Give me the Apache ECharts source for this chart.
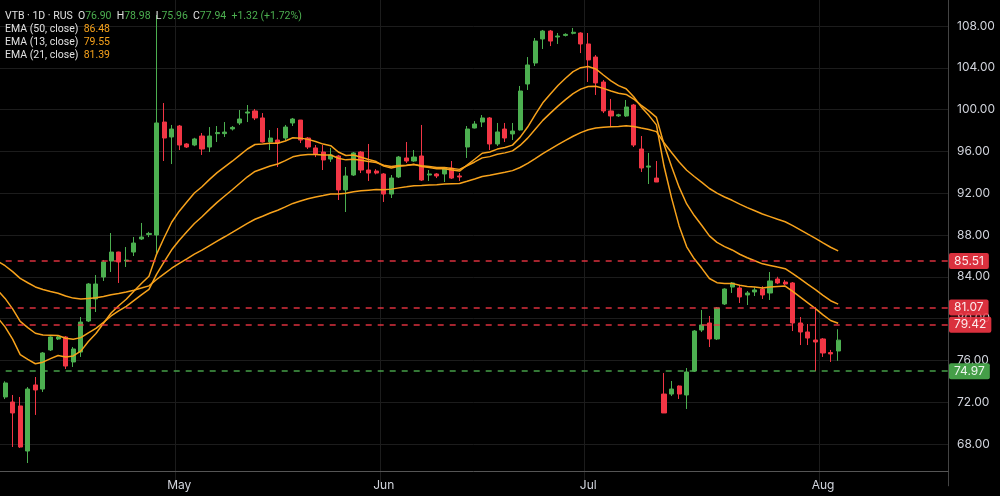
<!DOCTYPE html>
<html>
<head>
<meta charset="utf-8" />
<title>VTB 1D</title>
<script src="https://cdn.jsdelivr.net/npm/echarts@6/dist/echarts.min.js"></script>
<style>
  html, body { margin: 0; padding: 0; background: #000; }
  #main { width: 1000px; height: 496px; }
</style>
</head>
<body>
<div id="main"></div>
<script>
// trading days on the chart (weekend sessions included), 2025
var aprilDays = [7, 8, 9, 10, 11, 12, 13, 14, 15, 16, 17, 18, 19, 20, 21, 22, 23, 24, 25, 26, 27, 28, 29, 30];
var mayDays = [3, 4, 5, 6, 7, 10, 11, 12, 13, 14, 15, 16, 17, 18, 19, 20, 21, 22, 23, 24, 25, 26, 27, 28, 29, 30, 31];
var juneDays = [1, 2, 3, 4, 5, 6, 7, 8, 9, 10, 11, 15, 16, 17, 18, 19, 20, 21, 22, 23, 24, 25, 26, 27, 28, 29, 30];
var julyDays = [1, 2, 3, 4, 5, 6, 7, 8, 9, 10, 11, 12, 13, 14, 15, 16, 17, 18, 19, 20, 21, 22, 23, 24, 25, 26, 27, 28, 29, 30, 31];
var augustDays = [1, 2, 3, 4, 5, 6, 7, 8, 9, 10, 11, 12, 13, 14, 15, 16, 17];
var monthNames = ['Jan', 'Feb', 'Mar', 'Apr', 'May', 'Jun', 'Jul', 'Aug', 'Sep', 'Oct', 'Nov', 'Dec'];

var opens = [72.59, 72.50, 72.02, 71.64, 67.33, 73.65, 73.26, 77.00, 78.05, 78.24,
  75.85, 76.80, 79.77, 81.88, 83.98, 85.51, 86.37, 85.51, 86.37, 87.62,
  88.05, 88.00, 98.81, 97.38, 98.43, 96.71, 96.61, 97.47, 96.42, 97.70,
  97.70, 98.15, 98.72, 99.67, 99.87, 99.20, 96.90, 97.09, 97.28, 98.72,
  99.00, 97.28, 96.33, 95.94, 95.27, 95.56, 92.31, 93.74, 95.94, 94.22,
  94.12, 93.84, 91.92, 93.55, 95.37, 95.08, 95.56, 93.74, 93.84, 93.84,
  94.41, 93.65, 96.42, 98.24, 98.81, 99.20, 96.71, 98.14, 97.67, 98.05,
  102.45, 104.46, 106.76, 107.52, 106.95, 107.10, 107.30, 107.33, 106.28, 105.03,
  102.64, 99.87, 99.40, 99.39, 100.44, 96.23, 94.50, 93.45, 72.78, 72.78,
  73.55, 72.69, 74.98, 78.91, 79.58, 78.05, 81.40, 83.02, 82.93, 82.26,
  82.55, 82.83, 82.45, 83.79, 83.50, 83.41, 79.58, 78.72, 77.95, 78.05,
  76.75, 76.90];
var highs = [72.88, 74.00, 72.69, 72.50, 73.45, 74.41, 76.80, 78.30, 78.33, 78.33,
  77.28, 80.15, 83.40, 84.17, 85.61, 88.19, 86.40, 86.85, 87.81, 89.15,
  88.30, 109.05, 100.63, 98.53, 98.53, 96.80, 97.30, 97.76, 98.33, 98.43,
  98.81, 98.43, 99.96, 100.44, 100.06, 99.67, 98.05, 98.24, 98.53, 99.20,
  99.00, 97.38, 96.61, 96.61, 96.33, 95.66, 94.51, 95.94, 96.04, 96.71,
  94.30, 93.93, 93.74, 95.56, 96.90, 96.13, 98.53, 94.22, 93.93, 94.51,
  95.08, 93.93, 98.43, 98.90, 99.48, 99.29, 98.72, 98.72, 98.72, 102.26,
  105.03, 106.85, 107.62, 107.62, 107.33, 107.30, 107.81, 107.40, 107.33, 105.22,
  102.83, 101.02, 99.60, 100.92, 100.54, 97.47, 95.85, 95.08, 74.79, 74.03,
  73.60, 75.27, 78.90, 80.82, 80.25, 81.11, 82.90, 83.50, 83.12, 82.64,
  83.00, 83.10, 84.46, 84.00, 83.70, 83.50, 80.15, 79.48, 81.11, 78.14,
  77.00, 78.98];
var lows = [71.83, 72.30, 67.71, 67.62, 66.18, 70.78, 72.98, 76.90, 77.95, 75.18,
  75.37, 76.33, 79.67, 80.63, 83.60, 84.46, 83.41, 84.94, 85.99, 87.52,
  87.80, 86.28, 95.08, 94.79, 96.13, 96.33, 96.50, 95.66, 95.94, 96.90,
  97.38, 98.00, 98.53, 98.81, 99.00, 96.85, 96.13, 94.51, 97.09, 98.43,
  96.80, 96.23, 95.46, 94.22, 94.99, 91.35, 90.20, 93.65, 93.93, 93.17,
  93.80, 91.16, 91.54, 93.45, 94.89, 95.00, 93.17, 93.17, 93.45, 93.07,
  93.36, 93.17, 95.37, 98.20, 98.33, 96.13, 96.52, 96.90, 97.09, 98.00,
  101.88, 104.17, 105.80, 106.08, 106.28, 107.00, 107.20, 105.41, 102.64, 101.40,
  99.67, 98.43, 99.30, 99.30, 96.42, 94.03, 92.88, 93.07, 70.97, 72.59,
  72.31, 71.35, 74.90, 78.72, 77.28, 77.95, 81.30, 82.45, 81.49, 81.30,
  82.16, 81.88, 81.78, 83.30, 83.20, 78.81, 77.47, 77.47, 74.97, 76.33,
  75.85, 75.96];
var closes = [72.11, 73.84, 70.97, 67.71, 73.26, 73.17, 76.71, 78.24, 78.24, 75.46,
  77.09, 79.67, 83.31, 83.31, 85.42, 86.37, 85.42, 85.60, 87.23, 87.81,
  88.15, 98.72, 97.28, 98.14, 96.61, 96.42, 97.19, 96.23, 97.47, 97.80,
  97.85, 98.30, 99.10, 99.77, 99.20, 96.90, 97.28, 96.80, 98.33, 99.10,
  97.09, 96.42, 95.75, 95.18, 95.66, 92.31, 93.65, 95.85, 94.22, 93.93,
  93.93, 91.92, 93.45, 95.46, 95.08, 95.46, 93.26, 93.84, 93.65, 94.41,
  93.45, 93.55, 98.14, 98.62, 99.20, 96.71, 97.86, 97.28, 97.95, 101.78,
  104.27, 106.56, 107.52, 106.56, 107.04, 107.20, 107.40, 106.28, 104.75, 102.55,
  99.87, 99.39, 99.50, 100.25, 96.61, 94.41, 94.60, 93.07, 70.97, 73.26,
  72.78, 74.89, 78.81, 79.39, 78.05, 81.01, 82.83, 83.41, 82.07, 82.45,
  82.74, 82.26, 83.60, 83.41, 83.31, 79.58, 78.72, 78.14, 77.76, 76.71,
  76.62, 77.94];

var ema50 = [85.51, 85.06, 84.50, 83.85, 83.43, 83.03, 82.78, 82.60, 82.43, 82.16,
  81.96, 81.87, 81.93, 81.99, 82.12, 82.29, 82.41, 82.54, 82.72, 82.92,
  83.13, 83.74, 84.28, 84.82, 85.28, 85.72, 86.17, 86.56, 86.99, 87.42,
  87.83, 88.25, 88.68, 89.11, 89.51, 89.80, 90.10, 90.37, 90.69, 91.02,
  91.26, 91.46, 91.63, 91.77, 91.92, 91.93, 91.99, 92.14, 92.23, 92.29,
  92.35, 92.34, 92.39, 92.51, 92.61, 92.72, 92.74, 92.78, 92.81, 92.87,
  92.90, 92.93, 93.14, 93.36, 93.59, 93.71, 93.87, 94.01, 94.16, 94.46,
  94.85, 95.31, 95.79, 96.21, 96.64, 97.05, 97.45, 97.80, 98.07, 98.24,
  98.31, 98.35, 98.39, 98.46, 98.39, 98.23, 98.09, 97.89, 96.83, 95.90,
  94.99, 94.20, 93.60, 93.04, 92.45, 92.00, 91.64, 91.32, 90.96, 90.62,
  90.32, 90.01, 89.76, 89.51, 89.27, 88.89, 88.49, 88.08, 87.68, 87.25,
  86.83, 86.48];
var ema13 = [80.10, 79.21, 78.03, 76.56, 76.09, 75.68, 75.83, 76.17, 76.47, 76.32,
  76.43, 76.89, 77.80, 78.58, 79.56, 80.53, 81.23, 81.85, 82.62, 83.36,
  84.05, 86.15, 87.74, 89.22, 90.28, 91.16, 92.02, 92.62, 93.32, 93.97,
  94.52, 95.06, 95.64, 96.23, 96.66, 96.70, 96.78, 96.78, 97.00, 97.30,
  97.27, 97.15, 96.95, 96.70, 96.55, 95.94, 95.61, 95.65, 95.44, 95.22,
  95.03, 94.59, 94.42, 94.57, 94.65, 94.76, 94.55, 94.45, 94.33, 94.34,
  94.21, 94.12, 94.69, 95.25, 95.82, 95.95, 96.22, 96.37, 96.60, 97.34,
  98.33, 99.51, 100.65, 101.50, 102.30, 103.00, 103.63, 104.01, 104.12, 103.89,
  103.31, 102.75, 102.29, 102.00, 101.23, 100.26, 99.45, 98.54, 94.60, 91.55,
  88.87, 86.87, 85.72, 84.81, 83.84, 83.44, 83.36, 83.37, 83.19, 83.08,
  83.03, 82.92, 83.02, 83.08, 83.11, 82.60, 82.05, 81.50, 80.96, 80.35,
  79.82, 79.55];
var ema21 = [82.74, 81.93, 80.93, 79.73, 79.14, 78.60, 78.43, 78.41, 78.39, 78.12,
  78.03, 78.18, 78.64, 79.06, 79.64, 80.25, 80.73, 81.17, 81.72, 82.27,
  82.80, 84.24, 85.42, 86.58, 87.49, 88.30, 89.10, 89.75, 90.45, 91.12,
  91.73, 92.33, 92.95, 93.57, 94.08, 94.34, 94.60, 94.80, 95.12, 95.48,
  95.63, 95.70, 95.70, 95.65, 95.66, 95.35, 95.19, 95.25, 95.15, 95.04,
  94.94, 94.67, 94.55, 94.64, 94.68, 94.75, 94.62, 94.55, 94.47, 94.46,
  94.36, 94.28, 94.63, 94.99, 95.38, 95.50, 95.72, 95.86, 96.05, 96.57,
  97.27, 98.12, 98.97, 99.66, 100.33, 100.95, 101.53, 101.96, 102.21, 102.24,
  102.03, 101.78, 101.57, 101.45, 101.01, 100.41, 99.88, 99.26, 96.69, 94.56,
  92.58, 90.97, 89.86, 88.91, 87.92, 87.29, 86.89, 86.57, 86.16, 85.82,
  85.54, 85.24, 85.09, 84.93, 84.78, 84.30, 83.80, 83.28, 82.78, 82.23,
  81.71, 81.39];

// horizontal price levels drawn by the user
var priceLevels = [85.51, 81.07, 79.42, 74.97];

var upColor = '#4caf50';
var downColor = '#f23645';
var emaColor = '#f7a21b';

function pad(d) { return d < 10 ? '0' + d : '' + d; }
var dates = [];
[['04', aprilDays], ['05', mayDays], ['06', juneDays], ['07', julyDays], ['08', augustDays]].forEach(function (m) {
    m[1].forEach(function (d) { dates.push('2025-' + m[0] + '-' + pad(d)); });
});

function isMonthStart(index) {
    return index > 0 && dates[index].slice(0, 7) !== dates[index - 1].slice(0, 7);
}

var candles = opens.map(function (o, i) {
    return [o, closes[i], lows[i], highs[i]];
});

var n = closes.length;
var lastClose = closes[n - 1];
var change = lastClose - closes[n - 2];
var changePct = change / closes[n - 2] * 100;

// grid lines: hide the one at 64 which sits under the time axis
var gridColors = [];
for (var k = 64; k <= 112; k += 4) gridColors.push(k === 64 ? 'transparent' : '#1c1c1c');

var myChart = echarts.init(document.getElementById('main'));

var legendFont = 10.5;
var option = {
    backgroundColor: '#000',
    animation: false,
    textStyle: { fontFamily: 'Inter, sans-serif' },
    title: {
        left: 5,
        top: 9.5,
        padding: 0,
        text: [
            '{w|VTB · 1D · RUS}  {w|O}{g|' + opens[n - 1].toFixed(2) + '}  {w|H}{g|' + highs[n - 1].toFixed(2) +
                '}  {w|L}{g|' + lows[n - 1].toFixed(2) + '}  {w|C}{g|' + lastClose.toFixed(2) + '}  {g|+' +
                change.toFixed(2) + ' (+' + changePct.toFixed(2) + '%)}',
            '{w|EMA (50, close)}  {o|' + ema50[n - 1].toFixed(2) + '}',
            '{w|EMA (13, close)}  {o|' + ema13[n - 1].toFixed(2) + '}',
            '{w|EMA (21, close)}  {o|' + ema21[n - 1].toFixed(2) + '}'
        ].join('\n'),
        textStyle: {
            fontFamily: 'Roboto, sans-serif',
            fontSize: legendFont,
            fontWeight: 'normal',
            color: '#e0e0e0',
            lineHeight: 13,
            rich: {
                w: { color: '#e0e0e0', fontFamily: 'Roboto', fontSize: legendFont, lineHeight: 13 },
                g: { color: upColor, fontFamily: 'Roboto', fontSize: legendFont, lineHeight: 13 },
                o: { color: emaColor, fontFamily: 'Roboto', fontSize: legendFont, lineHeight: 13 }
            }
        }
    },
    grid: {
        left: -6.3,
        right: 52,
        top: -15.8,
        height: 501.6,
        containLabel: false,
        outerBoundsMode: 'none'
    },
    xAxis: {
        type: 'category',
        data: dates,
        boundaryGap: true,
        offset: -14.8,
        axisLine: { lineStyle: { color: '#555' } },
        axisTick: { show: false },
        axisLabel: {
            interval: isMonthStart,
            color: '#d1d4dc',
            fontSize: 12,
            margin: 8,
            formatter: function (v) { return monthNames[+v.slice(5, 7) - 1]; }
        },
        splitLine: { show: true, interval: isMonthStart, lineStyle: { color: '#1c1c1c' } }
    },
    yAxis: {
        type: 'value',
        position: 'right',
        min: 64,
        max: 112,
        interval: 4,
        axisLine: { show: true, lineStyle: { color: '#444' } },
        axisTick: { show: false },
        axisLabel: {
            color: '#d1d4dc',
            fontSize: 12,
            margin: 9,
            showMinLabel: false,
            showMaxLabel: false,
            formatter: function (v) { return v.toFixed(2); }
        },
        splitLine: { show: true, lineStyle: { color: gridColors } }
    },
    series: [{
        name: 'VTB',
        type: 'candlestick',
        data: candles,
        barWidth: 4.6,
        itemStyle: {
            color: upColor,
            color0: downColor,
            borderColor: upColor,
            borderColor0: downColor,
            borderWidth: 1
        },
        markLine: {
            silent: true,
            symbol: ['none', 'none'],
            label: {
                show: true,
                position: 'end',
                distance: 1,
                color: '#fff',
                fontSize: 12,
                lineHeight: 12,
                padding: [2, 5],
                borderRadius: 2,
                formatter: function (p) { return p.value.toFixed(2); }
            },
            data: priceLevels.map(function (p) {
                var c = p > lastClose ? downColor : upColor;
                return {
                    yAxis: p,
                    lineStyle: { color: c, type: [6, 6], width: 1.5, opacity: 0.9 },
                    label: { backgroundColor: c }
                };
            })
        }
    }, {
        name: 'EMA (50, close)',
        type: 'line',
        data: ema50,
        showSymbol: false,
        silent: true,
        z: 3,
        lineStyle: { color: emaColor, width: 1.5 }
    }, {
        name: 'EMA (13, close)',
        type: 'line',
        data: ema13,
        showSymbol: false,
        silent: true,
        z: 3,
        lineStyle: { color: emaColor, width: 1.5 }
    }, {
        name: 'EMA (21, close)',
        type: 'line',
        data: ema21,
        showSymbol: false,
        silent: true,
        z: 3,
        lineStyle: { color: emaColor, width: 1.5 }
    }]
};

myChart.setOption(option);
</script>
</body>
</html>
